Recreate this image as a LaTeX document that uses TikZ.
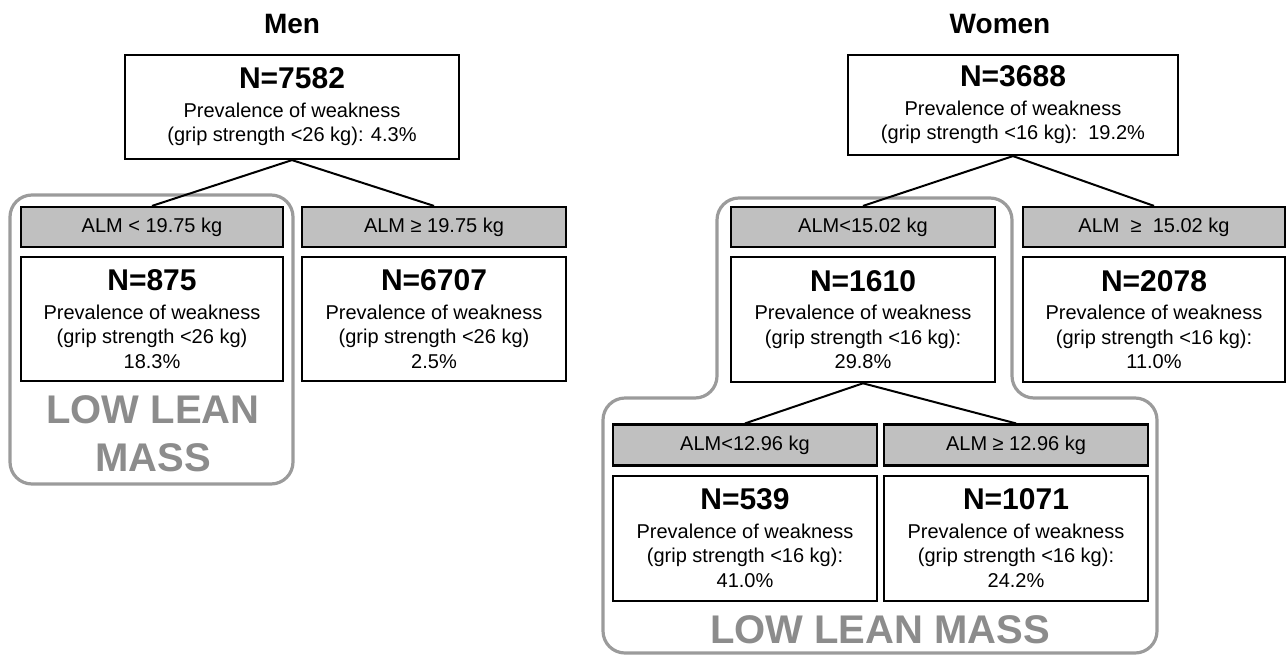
\documentclass[tikz,border=0pt]{standalone}
\usepackage{fontspec}
\setmainfont{Liberation Sans}
\usetikzlibrary{positioning}
\definecolor{cutgray}{RGB}{192,192,192}
\definecolor{massgray}{RGB}{140,140,140}
\definecolor{framegray}{RGB}{155,155,155}

\newcommand{\bign}[1]{{\fontsize{30}{30}\selectfont\bfseries #1}}

\begin{document}
\begin{tikzpicture}[x=1pt, y=-1pt,
    title/.style={font=\fontsize{28}{30}\selectfont\bfseries},
    cut/.style={draw, line width=2.2pt, fill=cutgray, minimum width=264pt, minimum height=40pt, inner sep=0pt, font=\fontsize{20}{24}\selectfont},
    info/.style={draw, line width=2.2pt, fill=white, minimum width=264pt, minimum height=124pt, inner sep=0pt, align=center, font=\fontsize{20}{24.5}\selectfont},
    lowmass/.style={text=massgray, font=\fontsize{40}{48}\selectfont\bfseries, align=center},
    hull/.style={draw=framegray, line width=3.2pt, rounded corners=22pt},
    link/.style={line width=2pt}]

  \useasboundingbox (0,0) rectangle (1287,656);

  % low lean mass frames
  \draw[hull] (10,195) rectangle (293,484);
  \draw[hull] (860,198) -- (1012,198) -- (1012,398) -- (1157,398) -- (1157,653)
    -- (603,653) -- (603,398) -- (717,398) -- (717,198) -- cycle;

  % Men
  \node[title] (mtitle) at (292,24) {Men};
  \node[info, minimum width=334pt, minimum height=104pt] (mall) at (292,107)
    {\bign{N=7582}\\[4pt] Prevalence of weakness\\(grip strength <26 kg): 4.3\%};
  \node[cut, minimum width=262pt] (mcut1) at (152,227) {ALM < 19.75 kg};
  \node[cut] (mcut2) at (434,227) {ALM ≥ 19.75 kg};
  \node[info, minimum width=262pt, below=8pt of mcut1] (mlow)
    {\bign{N=875}\\[4pt] Prevalence of weakness\\(grip strength <26 kg)\\18.3\%};
  \node[info, below=8pt of mcut2] (mhigh)
    {\bign{N=6707}\\[4pt] Prevalence of weakness\\(grip strength <26 kg)\\2.5\%};
  \node[lowmass] (mmass) at (153,434) {LOW LEAN\\MASS};

  \draw[link] (mall.south) -- (mcut1.north);
  \draw[link] (mall.south) -- (mcut2.north);

  % Women
  \node[title] (wtitle) at (1000,24) {Women};
  \node[info, minimum width=330pt, minimum height=100pt] (wall) at (1013,105)
    {\bign{N=3688}\\[4pt] Prevalence of weakness\\(grip strength <16 kg):\ \ 19.2\%};
  \node[cut] (wcut1) at (863,227) {ALM<15.02 kg};
  \node[cut, minimum width=262pt] (wcut2) at (1154,227) {ALM\ \ ≥\ \ 15.02 kg};
  \node[info, minimum height=125pt, below=8pt of wcut1] (wmid)
    {\bign{N=1610}\\[4pt] Prevalence of weakness\\(grip strength <16 kg):\\29.8\%};
  \node[info, minimum width=262pt, minimum height=125pt, below=8pt of wcut2] (wright)
    {\bign{N=2078}\\[4pt] Prevalence of weakness\\(grip strength <16 kg):\\11.0\%};
  \node[cut, minimum height=41pt] (wcut3) at (745,445) {ALM<12.96 kg};
  \node[cut, minimum height=41pt] (wcut4) at (1016,445) {ALM ≥ 12.96 kg};
  \node[info, minimum height=125pt, below=8pt of wcut3] (wlow)
    {\bign{N=539}\\[4pt] Prevalence of weakness\\(grip strength <16 kg):\\41.0\%};
  \node[info, minimum height=125pt, below=8pt of wcut4] (wupper)
    {\bign{N=1071}\\[4pt] Prevalence of weakness\\(grip strength <16 kg):\\24.2\%};
  \node[lowmass] (wmass) at (880,630) {LOW LEAN MASS};

  \draw[link] (wall.south) -- (wcut1.north);
  \draw[link] (wall.south) -- (wcut2.north);
  \draw[link] (wmid.south) -- (wcut3.north);
  \draw[link] (wmid.south) -- (wcut4.north);
\end{tikzpicture}
\end{document}
